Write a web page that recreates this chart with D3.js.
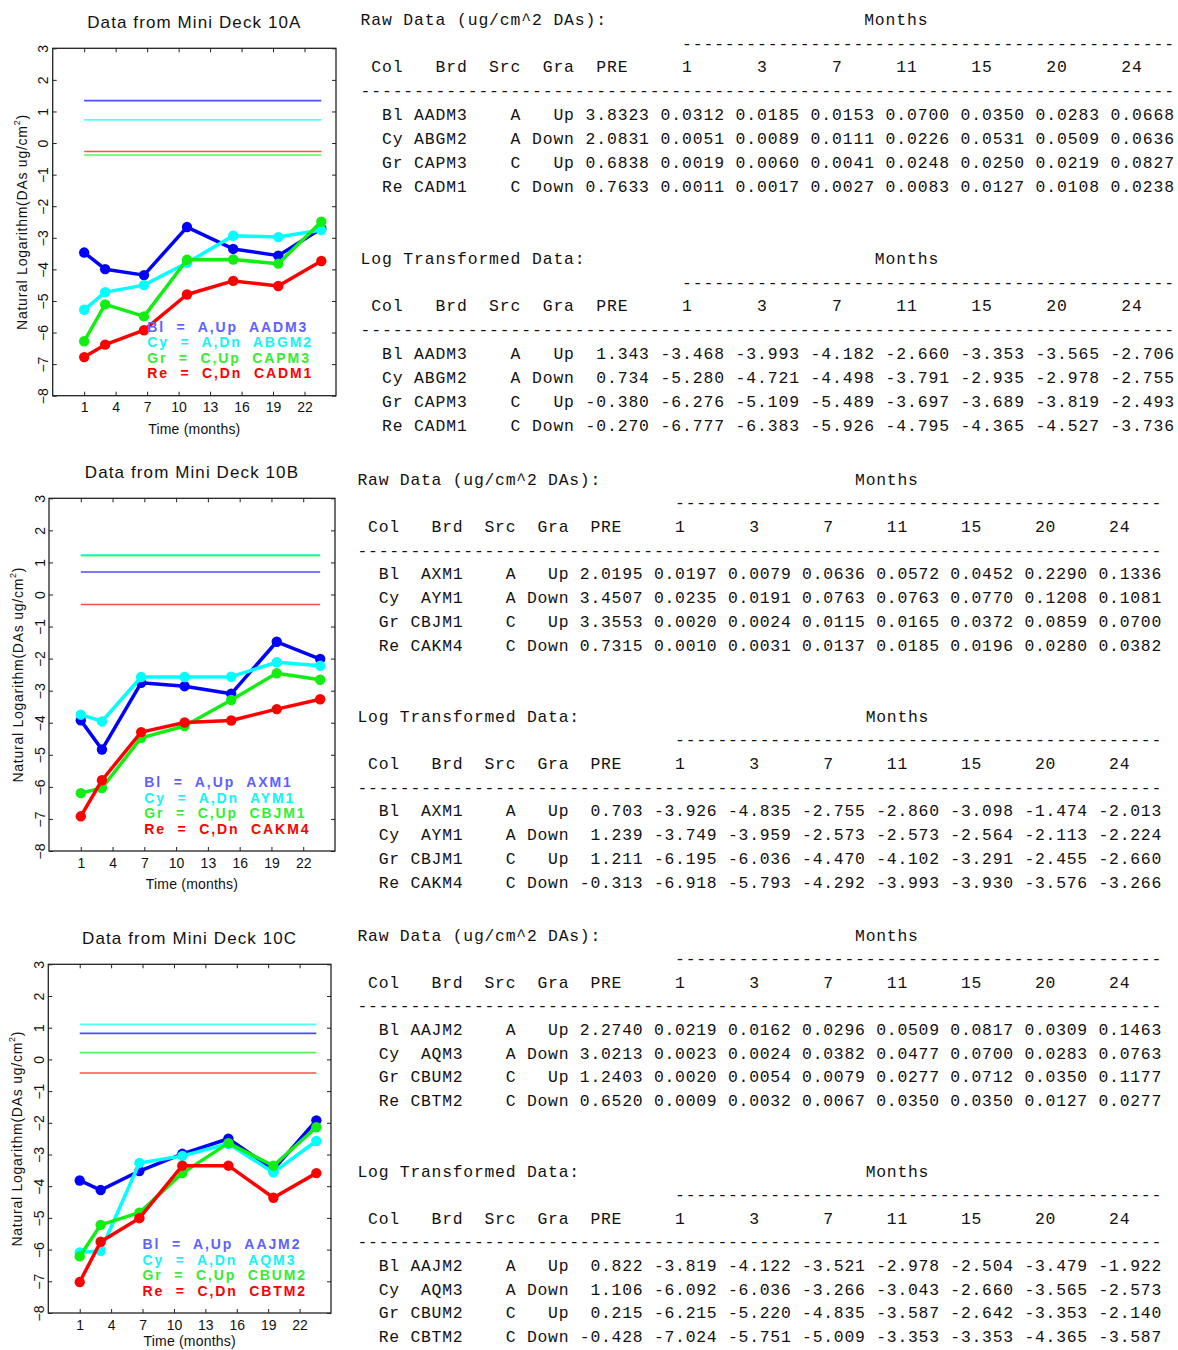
<!DOCTYPE html>
<html>
<head>
<meta charset="utf-8">
<script src="https://cdn.jsdelivr.net/npm/d3@7"></script>
<style>
  html, body { margin: 0; padding: 0; background: #fff; }
  svg { display: block; }
</style>
</head>
<body>
<script>
// ---------------- DATA ----------------
const months = [1, 3, 7, 11, 15, 20, 24];                 // table column labels
const plotMonths = [1, 3, 6.7, 10.8, 15.2, 19.5, 23.6];   // x positions
const xTickValues = [1, 4, 7, 10, 13, 16, 19, 22];
const yTickValues = [-8, -7, -6, -5, -4, -3, -2, -1, 0, 1, 2, 3];
const colorCodes = ["Bl", "Cy", "Gr", "Re"];
const sources = ["A", "A", "C", "C"];
const gradients = ["Up", "Down", "Up", "Down"];
const gradAbbr = ["Up", "Dn", "Up", "Dn"];
const deckTitles = ["Data from Mini Deck 10A", "Data from Mini Deck 10B", "Data from Mini Deck 10C"];

const brands10A = ["AADM3", "ABGM2", "CAPM3", "CADM1"];
const rawPre10A = [3.8323, 2.0831, 0.6838, 0.7633];
const raw10A = [
  [0.0312, 0.0185, 0.0153, 0.0700, 0.0350, 0.0283, 0.0668],
  [0.0051, 0.0089, 0.0111, 0.0226, 0.0531, 0.0509, 0.0636],
  [0.0019, 0.0060, 0.0041, 0.0248, 0.0250, 0.0219, 0.0827],
  [0.0011, 0.0017, 0.0027, 0.0083, 0.0127, 0.0108, 0.0238]
];
const logPre10A = [1.343, 0.734, -0.380, -0.270];
const log10A = [
  [-3.468, -3.993, -4.182, -2.660, -3.353, -3.565, -2.706],
  [-5.280, -4.721, -4.498, -3.791, -2.935, -2.978, -2.755],
  [-6.276, -5.109, -5.489, -3.697, -3.689, -3.819, -2.493],
  [-6.777, -6.383, -5.926, -4.795, -4.365, -4.527, -3.736]
];

const brands10B = ["AXM1", "AYM1", "CBJM1", "CAKM4"];
const rawPre10B = [2.0195, 3.4507, 3.3553, 0.7315];
const raw10B = [
  [0.0197, 0.0079, 0.0636, 0.0572, 0.0452, 0.2290, 0.1336],
  [0.0235, 0.0191, 0.0763, 0.0763, 0.0770, 0.1208, 0.1081],
  [0.0020, 0.0024, 0.0115, 0.0165, 0.0372, 0.0859, 0.0700],
  [0.0010, 0.0031, 0.0137, 0.0185, 0.0196, 0.0280, 0.0382]
];
const logPre10B = [0.703, 1.239, 1.211, -0.313];
const log10B = [
  [-3.926, -4.835, -2.755, -2.860, -3.098, -1.474, -2.013],
  [-3.749, -3.959, -2.573, -2.573, -2.564, -2.113, -2.224],
  [-6.195, -6.036, -4.470, -4.102, -3.291, -2.455, -2.660],
  [-6.918, -5.793, -4.292, -3.993, -3.930, -3.576, -3.266]
];

const brands10C = ["AAJM2", "AQM3", "CBUM2", "CBTM2"];
const rawPre10C = [2.2740, 3.0213, 1.2403, 0.6520];
const raw10C = [
  [0.0219, 0.0162, 0.0296, 0.0509, 0.0817, 0.0309, 0.1463],
  [0.0023, 0.0024, 0.0382, 0.0477, 0.0700, 0.0283, 0.0763],
  [0.0020, 0.0054, 0.0079, 0.0277, 0.0712, 0.0350, 0.1177],
  [0.0009, 0.0032, 0.0067, 0.0350, 0.0350, 0.0127, 0.0277]
];
const logPre10C = [0.822, 1.106, 0.215, -0.428];
const log10C = [
  [-3.819, -4.122, -3.521, -2.978, -2.504, -3.479, -1.922],
  [-6.092, -6.036, -3.266, -3.043, -2.660, -3.565, -2.573],
  [-6.215, -5.220, -4.835, -3.587, -2.642, -3.353, -2.140],
  [-7.024, -5.751, -5.009, -3.353, -3.353, -4.365, -3.587]
];

// ---------------- STYLE / LAYOUT ----------------
const lineColors = ["#0000ff", "#00ffff", "#11ee11", "#ff0000"];
const legendColors = ["#5f5fff", "#11f5f5", "#33ee33", "#ff0000"];

const decks = [
  { title: deckTitles[0], brands: brands10A, rawPre: rawPre10A, raw: raw10A, logPre: logPre10A, log: log10A,
    plot: { left: 52.7, right: 336, top: 48.3, bottom: 395.7 },
    table: { x0: 360.5, cw: 10.72, y0: 19, lh: 23.9 } },
  { title: deckTitles[1], brands: brands10B, rawPre: rawPre10B, raw: raw10B, logPre: logPre10B, log: log10B,
    plot: { left: 49, right: 335, top: 498.3, bottom: 851 },
    table: { x0: 357.5, cw: 10.59, y0: 479, lh: 23.7 } },
  { title: deckTitles[2], brands: brands10C, rawPre: rawPre10C, raw: raw10C, logPre: logPre10C, log: log10C,
    plot: { left: 48.3, right: 331, top: 964.3, bottom: 1313 },
    table: { x0: 357.5, cw: 10.59, y0: 935, lh: 23.6 } }
];

const svg = d3.select("body").append("svg")
  .attr("width", 1178).attr("height", 1350)
  .attr("viewBox", "0 0 1178 1350");

const sansFont = "'Liberation Sans', Arial, sans-serif";
const monoFont = "'Liberation Mono', 'DejaVu Sans Mono', monospace";

function drawPanel(d) {
  const p = d.plot;
  const x = d3.scaleLinear().domain([-2, 25]).range([p.left, p.right]);
  const y = d3.scaleLinear().domain([-8, 3]).range([p.bottom, p.top]);
  const g = svg.append("g");
  const cx = (p.left + p.right) / 2;

  // title
  g.append("text")
    .attr("x", cx).attr("y", p.top - 25.5)
    .attr("text-anchor", "middle").attr("dominant-baseline", "central")
    .style("font-family", sansFont).style("font-size", "17px").style("letter-spacing", "1.1px")
    .style("font-weight", "500")
    .attr("fill", "#111")
    .text(d.title);

  // axes (ticks pointing inward)
  const axL = g.append("g").attr("transform", `translate(${p.left},0)`)
    .call(d3.axisLeft(y).tickValues(yTickValues).tickSize(-4).tickPadding(9.5));
  axL.selectAll("text")
    .attr("x", null).attr("dy", null)
    .attr("transform", "translate(-9.5,0) rotate(-90)")
    .attr("text-anchor", "middle").attr("dominant-baseline", "central");
  const axR = g.append("g").attr("transform", `translate(${p.right},0)`)
    .call(d3.axisRight(y).tickValues(yTickValues).tickSize(-4).tickFormat(""));
  const axT = g.append("g").attr("transform", `translate(0,${p.top})`)
    .call(d3.axisTop(x).tickValues(xTickValues).tickSize(-4).tickFormat(""));
  const axB = g.append("g").attr("transform", `translate(0,${p.bottom})`)
    .call(d3.axisBottom(x).tickValues(xTickValues).tickSize(-4));
  axB.selectAll("text").attr("y", 11.5).attr("dy", null).attr("dominant-baseline", "central");

  [axL, axR, axT, axB].forEach(a => {
    a.select(".domain").remove();
    a.selectAll("line").attr("stroke", "#222").attr("stroke-width", 1);
    a.selectAll("text").style("font-family", sansFont).style("font-size", "14px").attr("fill", "#111");
  });

  // frame
  g.append("rect")
    .attr("x", p.left).attr("y", p.top)
    .attr("width", p.right - p.left).attr("height", p.bottom - p.top)
    .attr("fill", "none").attr("stroke", "#222").attr("stroke-width", 1.3);

  // y title
  const yt = g.append("text")
    .attr("transform", `translate(${p.left - 31},${(p.top + p.bottom) / 2}) rotate(-90)`)
    .attr("text-anchor", "middle").attr("dominant-baseline", "central")
    .style("font-family", sansFont).style("font-size", "14px").style("letter-spacing", "0.75px")
    .attr("fill", "#111");
  yt.append("tspan").text("Natural Logarithm(DAs ug/cm");
  yt.append("tspan").attr("dy", -5).style("font-size", "9px").text("2");
  yt.append("tspan").attr("dy", 5).text(")");

  // x title
  g.append("text")
    .attr("x", cx).attr("y", Math.min(p.bottom + 33, 1341))
    .attr("text-anchor", "middle").attr("dominant-baseline", "central")
    .style("font-family", sansFont).style("font-size", "14px").style("letter-spacing", "0.2px")
    .attr("fill", "#111")
    .text("Time (months)");

  // PRE reference lines
  d.logPre.forEach((v, i) => {
    g.append("line")
      .attr("x1", x(plotMonths[0])).attr("x2", x(plotMonths[plotMonths.length - 1]))
      .attr("y1", y(v)).attr("y2", y(v))
      .attr("stroke", lineColors[i]).attr("stroke-width", 1.6).attr("stroke-opacity", 0.7);
  });

  // series
  const line = d3.line().x((v, j) => x(plotMonths[j])).y(v => y(v));
  d.log.forEach((vals, i) => {
    g.append("path").attr("d", line(vals))
      .attr("fill", "none").attr("stroke", lineColors[i]).attr("stroke-width", 3.5)
      .attr("stroke-linejoin", "round");
    g.selectAll(null).data(vals).enter().append("circle")
      .attr("cx", (v, j) => x(plotMonths[j])).attr("cy", v => y(v)).attr("r", 5.2)
      .attr("fill", lineColors[i]);
  });

  // legend
  const legOffsets = [69, 53.5, 38, 22.5];
  colorCodes.forEach((c, i) => {
    g.append("text")
      .attr("x", x(7)).attr("y", p.bottom - legOffsets[i])
      .attr("dominant-baseline", "central")
      .attr("xml:space", "preserve").style("white-space", "pre")
      .style("font-family", sansFont).style("font-size", "14px").style("font-weight", "bold")
      .style("letter-spacing", "1.9px")
      .attr("fill", legendColors[i])
      .text(`${c}  =  ${sources[i]},${gradAbbr[i]}  ${d.brands[i]}`);
  });
}

function drawTable(d) {
  const t = d.table;
  const f7 = (v, n) => v.toFixed(n).padStart(7);
  const header = " Col   Brd  Src  Gra  PRE  " + months.map(m => String(m).padStart(4).padEnd(7)).join("");
  const topDash = " ".repeat(30) + "-".repeat(46);
  const fullDash = "-".repeat(76);
  const rowStart = i => `  ${colorCodes[i]} ${d.brands[i].padStart(5)}    ${sources[i]} ${gradients[i].padStart(4)}`;
  const lines = [];
  lines[0] = "Raw Data (ug/cm^2 DAs):".padEnd(47) + "Months";
  lines[1] = topDash;
  lines[2] = header;
  lines[3] = fullDash;
  d.raw.forEach((vals, i) => { lines[4 + i] = rowStart(i) + f7(d.rawPre[i], 4) + vals.map(v => f7(v, 4)).join(""); });
  lines[10] = "Log Transformed Data:".padEnd(48) + "Months";
  lines[11] = topDash;
  lines[12] = header;
  lines[13] = fullDash;
  d.log.forEach((vals, i) => { lines[14 + i] = rowStart(i) + f7(d.logPre[i], 3) + vals.map(v => f7(v, 3)).join(""); });

  const fs = 16.4;
  const ls = t.cw - 0.6 * fs;
  const g = svg.append("g");
  lines.forEach((s, k) => {
    if (s === undefined) return;
    g.append("text")
      .attr("x", t.x0).attr("y", t.y0 + k * t.lh + 5.6)
      .attr("xml:space", "preserve").style("white-space", "pre")
      .style("font-family", monoFont).style("font-size", fs + "px").style("letter-spacing", ls + "px")
      .attr("fill", "#111")
      .text(s);
  });
}

decks.forEach(d => { drawPanel(d); drawTable(d); });
</script>
</body>
</html>
